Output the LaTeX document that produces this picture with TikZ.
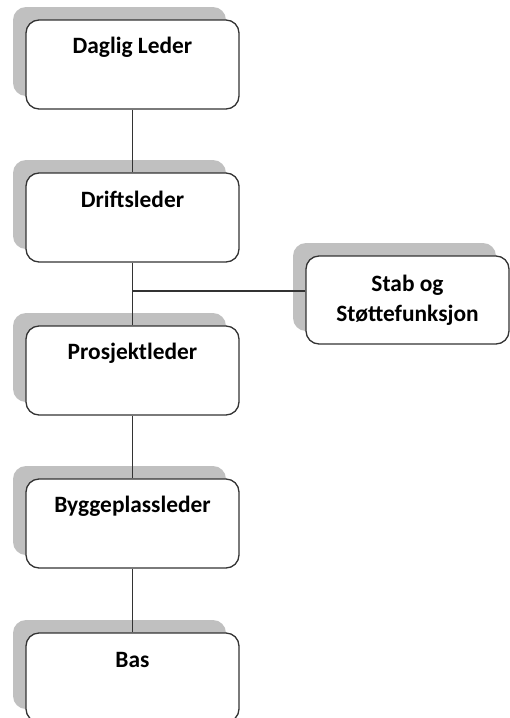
\documentclass[tikz,border=0pt]{standalone}
\usepackage{fontspec}
\setmainfont{Carlito}
\usetikzlibrary{shadows}
\definecolor{shadowgray}{HTML}{C0C0C0}
\definecolor{edge}{HTML}{333333}
\begin{document}
\begin{tikzpicture}[x=1pt,y=-1pt,
  orgbox/.style={draw=edge, line width=1.3pt, fill=white, rounded corners=13pt,
    minimum width=213pt, minimum height=89pt, inner sep=0pt,
    general shadow={fill=shadowgray, shadow xshift=-13pt, shadow yshift=13pt}},
  sidebox/.style={orgbox, minimum width=203pt, minimum height=88pt},
  lbl/.style={font=\fontsize{23.4}{30}\selectfont\bfseries, align=center, inner sep=0pt},
  link/.style={draw=edge, line width=1.3pt}]
\useasboundingbox (0,0) rectangle (510,718);
\clip (0,0) rectangle (510,718);
% main chain of command
\node[orgbox] (b1) at (132.5,64.5) {};
\node[orgbox] (b2) at (132.5,217.5) {};
\node[orgbox] (b3) at (132.5,370.5) {};
\node[orgbox] (b4) at (132.5,523.5) {};
\node[orgbox] (b5) at (132.5,677.5) {};
% staff function to the side
\node[sidebox] (stab) at (407.5,300) {};
% titles (shifts are in page units, so negative moves down)
\node[lbl] (t1) at ([yshift=-28pt]b1.north) {Daglig Leder};
\node[lbl] (t2) at ([yshift=-27pt]b2.north) {Driftsleder};
\node[lbl] (t3) at ([yshift=-28pt]b3.north) {Prosjektleder};
\node[lbl] (t4) at ([yshift=-28pt]b4.north) {Byggeplassleder};
\node[lbl] (t5) at ([yshift=-28pt]b5.north) {Bas};
\node[lbl] (ts) at ([yshift=0pt]stab.center) {Stab og\\Støttefunksjon};
% connectors
\draw[link] (b1.south) -- (b2.north);
\draw[link] (b2.south) -- (b3.north);
\draw[link] (b3.south) -- (b4.north);
\draw[link] (b4.south) -- (b5.north);
\coordinate (j) at ([yshift=9pt]stab.west -| b2.south);
\draw[link] ([yshift=9pt]stab.west) -- (j);
\end{tikzpicture}
\end{document}
